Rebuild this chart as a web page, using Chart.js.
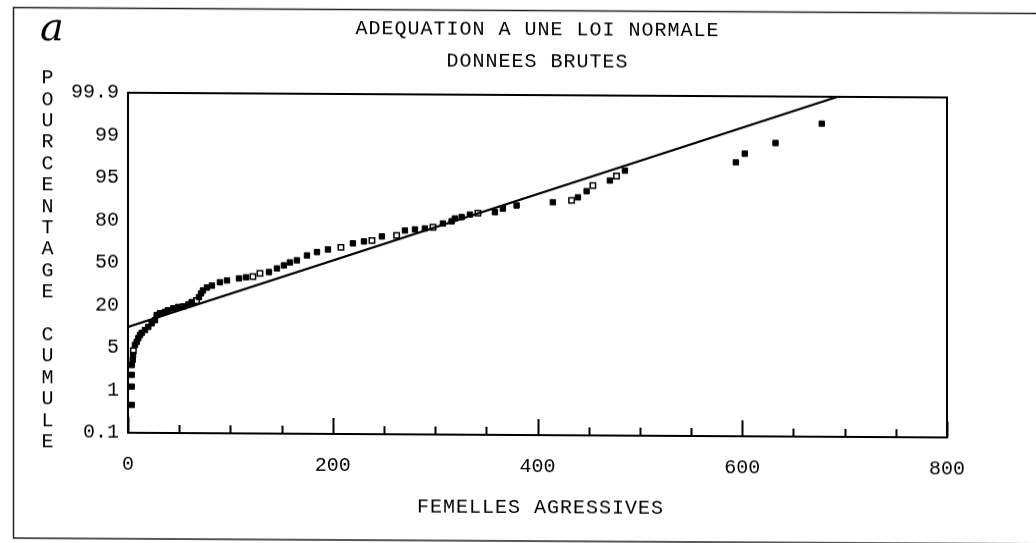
<!DOCTYPE html>
<html>
<head>
<meta charset="utf-8">
<script src="https://cdn.jsdelivr.net/npm/chart.js@4.4.1/dist/chart.umd.min.js"></script>
<style>
  html, body { margin: 0; padding: 0; background: #fff; overflow: hidden; }
  #wrap { width: 1036px; height: 543px; transform: skewY(0.33deg); }
</style>
</head>
<body>
<div id="wrap"><canvas id="myCanvas" width="1036" height="543"></canvas></div>
<script>
const titleLines = ["ADEQUATION A UNE LOI NORMALE", "DONNEES BRUTES"];
const xTitle = "FEMELLES AGRESSIVES";
const yTitle = "POURCENTAGE CUMULE";

// probability axis: labels sit at equal steps
const yTickValues = [0.1, 1, 5, 20, 50, 80, 95, 99, 99.9];
const yTickLabels = ["0.1", "1", "5", "20", "50", "80", "95", "99", "99.9"];
const xMajorTicks = [0, 200, 400, 600, 800];
const xMinorTicks = [50, 100, 150, 250, 300, 350, 450, 500, 550, 650, 700, 750];

// fitted normal line
const fitX = [0, 693];
const fitPct = [12.35, 99.9];

// observed cumulative percentages (filled squares)
const obsX = [3.6, 3.6, 3.6, 3.6, 4.6, 4.9, 6.8, 8.5, 10.1, 11.7, 13.4, 16.6, 19.8, 23.1, 26.4, 28.0,
  31.3, 36.1, 39, 44.2, 49.1, 54.0, 58.9, 62.2, 69.3, 71.3, 73.2, 77.1, 82.0, 89.8, 96.7, 108.4, 115.2,
  137.7, 145.5, 152.3, 158.2, 165, 174.8, 184.6, 195.3, 219.7, 230.5, 248, 270.5, 280.3, 290,
  307.6, 316.1, 319.3, 325.9, 334, 358.4, 366.2, 379.6, 415, 439.5, 448, 470.7, 485.4,
  593.8, 602.5, 632.5, 677.7];
const obsPct = [0.69, 1.35, 2.45, 3.38, 3.86, 4.32, 6.0, 7.1, 8.4, 9.5, 10.3, 11.3, 12.4, 13.7, 14.8, 16.6,
  17.3, 17.7, 18.3, 19.0, 19.5, 19.7, 20.8, 22.5, 26.0, 28.6, 30.7, 32.8, 34.2, 36.6, 37.9, 39.4, 40.2,
  44.0, 46.6, 48.8, 50.9, 52.4, 55.9, 58.3, 60.2, 64.6, 66.0, 69.6, 73.9, 74.7, 75.4,
  79.0, 80.3, 81.3, 81.8, 82.7, 83.6, 84.9, 86.0, 87.2, 89.0, 91.2, 95.0, 95.94,
  96.78, 97.6, 98.62, 99.33];

// observed cumulative percentages (open squares)
const openX = [5.2, 66.9, 122, 128.9, 208, 238.3, 262.4, 297.9, 341.8, 433.3, 454.1, 477.2];
const openPct = [4.73, 23.5, 40.7, 43.0, 61.7, 66.7, 70.4, 76.3, 83.2, 87.9, 93.2, 95.42];

// place a percentage between the equally spaced labels
const toPos = (p) => {
  const n = yTickValues.length;
  for (let i = 0; i < n - 1; i++) {
    const a = yTickValues[i], b = yTickValues[i + 1];
    if (p <= b || i === n - 2) return i + (p - a) / (b - a);
  }
};
const pts = (xs, ps) => xs.map((x, i) => ({ x, y: toPos(ps[i]) }));

const ink = "#000";
const monoFont = '"Liberation Mono", "DejaVu Sans Mono", monospace';

const decor = {
  id: "decor",
  beforeDatasetsDraw(chart) {
    const { ctx, chartArea: a, scales: { x } } = chart;
    ctx.save();
    ctx.strokeStyle = ink;
    ctx.lineWidth = 2;
    ctx.strokeRect(a.left, a.top, a.right - a.left, a.bottom - a.top);
    ctx.beginPath();
    xMajorTicks.forEach(v => {
      const px = Math.round(x.getPixelForValue(v)) + 0.5;
      ctx.moveTo(px, a.bottom);
      ctx.lineTo(px, a.bottom - 16);
    });
    xMinorTicks.forEach(v => {
      const px = Math.round(x.getPixelForValue(v)) + 0.5;
      ctx.moveTo(px, a.bottom);
      ctx.lineTo(px, a.bottom - 8);
    });
    ctx.stroke();
    ctx.restore();
  },
  afterDraw(chart) {
    const { ctx, chartArea: a } = chart;
    const cx = (a.left + a.right) / 2;
    ctx.save();
    // outer frame of the figure
    ctx.strokeStyle = "#222";
    ctx.lineWidth = 1.5;
    ctx.strokeRect(13.5, 10.5, 1040, 530.5);

    ctx.fillStyle = ink;
    ctx.font = "20px " + monoFont;
    ctx.textAlign = "center";
    ctx.textBaseline = "middle";
    ctx.letterSpacing = "1px";
    ctx.fillText(titleLines[0], cx, 30);
    ctx.fillText(titleLines[1], cx, 62);
    ctx.fillText(xTitle, cx + 3, 508);
    // stacked vertical axis title
    yTitle.split("").forEach((ch, i) => {
      if (ch !== " ") ctx.fillText(ch, 48, 81 + i * 21.4);
    });
    // handwritten panel letter
    ctx.letterSpacing = "0px";
    ctx.font = 'italic 40px "DejaVu Serif", serif';
    ctx.textBaseline = "alphabetic";
    ctx.fillText("a", 52, 43);
    ctx.restore();
  }
};

const canvas = document.getElementById("myCanvas");
const ctx = canvas.getContext("2d");

new Chart(ctx, {
  type: "scatter",
  data: {
    datasets: [
      {
        type: "line",
        label: "loi normale",
        data: pts(fitX, fitPct),
        borderColor: ink,
        borderWidth: 2.2,
        pointRadius: 0,
        fill: false,
      },
      {
        label: "observé",
        data: pts(obsX, obsPct),
        pointStyle: "rect",
        pointRadius: 3.8,
        backgroundColor: ink,
        borderColor: ink,
        borderWidth: 1,
      },
      {
        label: "observé (ouvert)",
        data: pts(openX, openPct),
        pointStyle: "rect",
        pointRadius: 3.8,
        backgroundColor: "#fff",
        borderColor: ink,
        borderWidth: 1.5,
      },
    ],
  },
  options: {
    responsive: false,
    animation: false,
    events: [],
    layout: { padding: { top: 95, right: 89, bottom: 0, left: 0 } },
    plugins: {
      legend: { display: false },
      title: { display: false },
      tooltip: { enabled: false },
    },
    scales: {
      x: {
        type: "linear",
        min: 0,
        max: 800,
        grid: { display: false, drawTicks: false },
        border: { display: false },
        afterFit: (s) => { s.height = 108; },
        ticks: {
          stepSize: 200,
          padding: 20,
          color: ink,
          font: { family: monoFont, size: 20 },
          maxRotation: 0,
        },
      },
      y: {
        type: "linear",
        min: 0,
        max: yTickLabels.length - 1,
        grid: { display: false, drawTicks: false },
        border: { display: false },
        afterFit: (s) => { s.width = 128; },
        ticks: {
          stepSize: 1,
          autoSkip: false,
          padding: 9,
          color: ink,
          font: { family: monoFont, size: 20 },
          callback: (v) => yTickLabels[v],
        },
      },
    },
  },
  plugins: [decor],
});
</script>
</body>
</html>
